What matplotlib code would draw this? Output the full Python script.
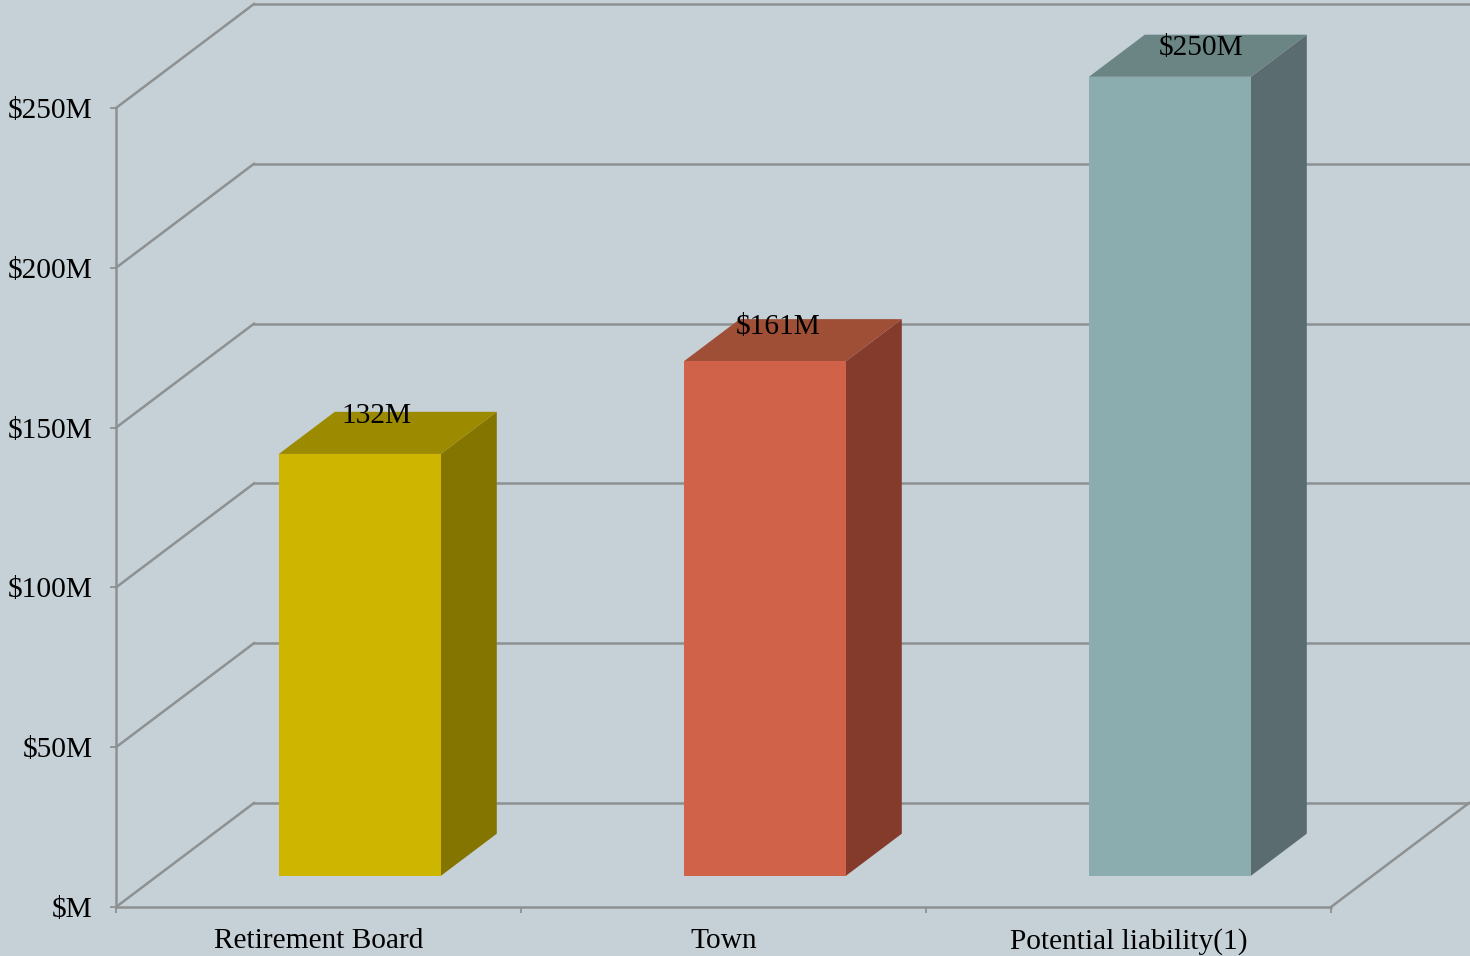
import matplotlib
matplotlib.use('Agg')
import matplotlib.pyplot as plt
from matplotlib.patches import Polygon

categories = ['Retirement Board', 'Town', 'Potential liability(1)']
values = [132, 161, 250]
value_labels = ['132M', '$161M', '$250M']
y_ticks = [0, 50, 100, 150, 200, 250]
y_tick_labels = ['$M', '$50M', '$100M', '$150M', '$200M', '$250M']

front_colors = ['#ceb600', '#d06249', '#8cadb0']
top_colors = ['#9c8a00', '#a04f37', '#6b8585']
side_colors = ['#847400', '#843b2b', '#5a6c6f']

bg = '#c6d1d7'
line_col = '#8e9192'

# oblique depth of the floor, in data units
depth_x = 138 / 405
depth_y = 104 / 3.196
bar_width = 0.4
bar_start = 0.3   # how far back the bar front sits (fraction of depth)
bar_depth = 0.405
# label shift from the bar centre (category units) and rise above the bar (points)
label_shift = [0.042, 0.032, 0.077]
label_rise = [27.5, 24.7, 20.4]

plt.rcParams['font.family'] = ['Liberation Serif', 'DejaVu Serif']

fig = plt.figure(figsize=(14.7, 9.56), dpi=100, facecolor=bg)
ax = fig.add_axes([116 / 1470, 49 / 956, 1215 / 1470, 799 / 956], facecolor='none')
ax.set_xlim(0, 3)
ax.set_ylim(0, 250)


def proj(x, d, y):
    return (x + d * depth_x, y + d * depth_y)


# walls and floor
for t in y_ticks:
    ax.plot([0, depth_x], [t, t + depth_y], color=line_col, lw=1.8, clip_on=False, zorder=1)
    ax.plot([depth_x, 3 + depth_x + 0.01], [t + depth_y, t + depth_y], color=line_col, lw=1.8,
            clip_on=False, zorder=1)
ax.plot([3, 3 + depth_x], [0, depth_y], color=line_col, lw=1.8, clip_on=False, zorder=1)

# bars
for i, v in enumerate(values):
    x0 = i + 0.5 - bar_width / 2
    x1 = i + 0.5 + bar_width / 2
    d0 = bar_start
    d1 = bar_start + bar_depth
    front = [proj(x0, d0, 0), proj(x1, d0, 0), proj(x1, d0, v), proj(x0, d0, v)]
    top = [proj(x0, d0, v), proj(x1, d0, v), proj(x1, d1, v), proj(x0, d1, v)]
    side = [proj(x1, d0, 0), proj(x1, d1, 0), proj(x1, d1, v), proj(x1, d0, v)]
    ax.add_patch(Polygon(side, facecolor=side_colors[i], edgecolor='none', clip_on=False, zorder=3))
    ax.add_patch(Polygon(top, facecolor=top_colors[i], edgecolor='none', clip_on=False, zorder=3))
    ax.add_patch(Polygon(front, facecolor=front_colors[i], edgecolor='none', clip_on=False, zorder=4))
    lx, ly = proj(i + 0.5 + label_shift[i], d0, v)
    ax.annotate(value_labels[i], (lx, ly), xytext=(0, label_rise[i]), textcoords='offset points',
                ha='center', va='center', fontsize=21.2, color='black', zorder=5, annotation_clip=False)

# axes
for s in ['top', 'right']:
    ax.spines[s].set_visible(False)
for s in ['left', 'bottom']:
    ax.spines[s].set_color(line_col)
    ax.spines[s].set_linewidth(1.8)
    ax.spines[s].set_zorder(2)

ax.set_yticks(y_ticks)
ax.set_yticklabels(y_tick_labels, fontsize=21.2)
ax.tick_params(axis='y', length=4.5, width=1.3, color=line_col, pad=12.5)
ax.set_xticks([0, 1, 2, 3])
ax.set_xticklabels([])
ax.set_xticks([0.5, 1.5, 2.5], minor=True)
ax.set_xticklabels(categories, minor=True, fontsize=21.2)
ax.tick_params(axis='x', which='major', length=4.5, width=1.3, color=line_col)
ax.tick_params(axis='x', which='minor', length=0, pad=15)

fig.savefig('out.png', dpi=100, facecolor=bg)
